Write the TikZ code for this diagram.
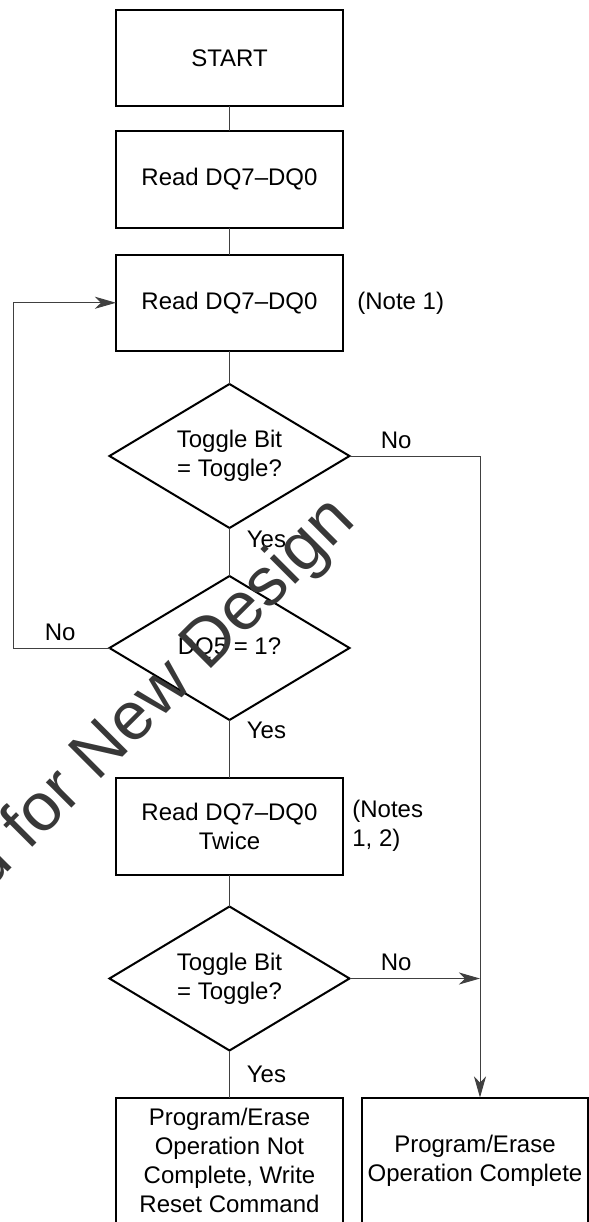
\documentclass[tikz,border=0pt]{standalone}
\usepackage{fontspec}
\setmainfont{Liberation Sans}
\usetikzlibrary{shapes.geometric, positioning, arrows.meta}

\tikzset{
  txt/.style={font=\fontsize{12pt}{14.5pt}\selectfont},
  stepbox/.style={txt, draw, line width=1pt, rectangle, minimum width=113.5pt, minimum height=48.25pt, inner sep=2pt, outer sep=0pt, align=center},
  decide/.style={txt, draw, line width=1pt, diamond, aspect=1.667, minimum width=120pt, minimum height=72pt, inner sep=1pt, outer sep=0pt, align=center},
  lbl/.style={txt, inner sep=0pt, anchor=base west},
  note/.style={txt, inner sep=0pt, align=left},
  conn/.style={draw=black!75, line width=0.5pt},
  arr/.style={conn, -{Stealth[length=10.5pt, width=6pt, inset=3pt]}},
}

\begin{document}
\begin{tikzpicture}[x=0.5pt, y=0.5pt]
    \useasboundingbox (0,0) rectangle (589,-1222);

    \node[stepbox] (start) at (229.5,-57.75) {START};
    \node[stepbox] (read1) [below=12.5pt of start] {Read DQ7--DQ0};
    \node[stepbox] (read2) [below=13.5pt of read1] {Read DQ7--DQ0};
    \node[decide] (tog1) [below=16.5pt of read2] {Toggle Bit\\= Toggle?};
    \node[decide] (dq5) [below=24pt of tog1] {DQ5 = 1?};
    \node[stepbox] (read3) [below=29pt of dq5] {Read DQ7--DQ0\\Twice};
    \node[decide] (tog2) [below=16pt of read3] {Toggle Bit\\= Toggle?};
    \node[stepbox, minimum height=63pt] (notdone) [below=23.5pt of tog2] {Program/Erase\\Operation Not\\Complete, Write\\Reset Command};
    \node[stepbox, minimum width=113pt, minimum height=63pt] (done) [right=9.5pt of notdone] {Program/Erase\\Operation Complete};

    % notes beside the read steps
    \node[note, anchor=base west] (note1) at ([shift={(14,0)}]read2.base east) {(Note 1)};
    \node[note, anchor=west] (note2) at ([shift={(9,0)}]read3.east) {(Notes\\1, 2)};

    \coordinate (lt) at (13,0);
    \coordinate (rt) at (480,0);

    \draw[conn] (start) -- (read1);
    \draw[conn] (read1) -- (read2);
    \draw[conn] (read2) -- (tog1);
    \draw[conn] (tog1) -- (dq5);
    \draw[conn] (dq5) -- (read3);
    \draw[conn] (read3) -- (tog2);
    \draw[conn] (tog2) -- (notdone);
    \draw[arr] (dq5.west) -- (lt |- dq5.west) -- (lt |- read2.west) -- (read2.west);
    \draw[arr] (tog1.east) -| (rt |- done.north);
    \draw[arr] (tog2.east) -- (rt |- tog2.east);

    % yes / no labels
    \node[lbl] (no1) at ([shift={(31,8)}]tog1.east) {No};
    \node[lbl] (yes1) at ([shift={(17,-19)}]tog1.south) {Yes};
    \node[lbl] (no2) at ([shift={(-65,8)}]dq5.west) {No};
    \node[lbl] (yes2) at ([shift={(17,-18)}]dq5.south) {Yes};
    \node[lbl] (no3) at ([shift={(31,8)}]tog2.east) {No};
    \node[lbl] (yes3) at ([shift={(17,-32)}]tog2.south) {Yes};

    % watermark
    \node[font=\fontsize{34pt}{40pt}\selectfont, text=black!78, rotate=45, anchor=base west, inner sep=0pt] (wmark) at (-12,-892) {d for New Design};

\end{tikzpicture}
\end{document}
